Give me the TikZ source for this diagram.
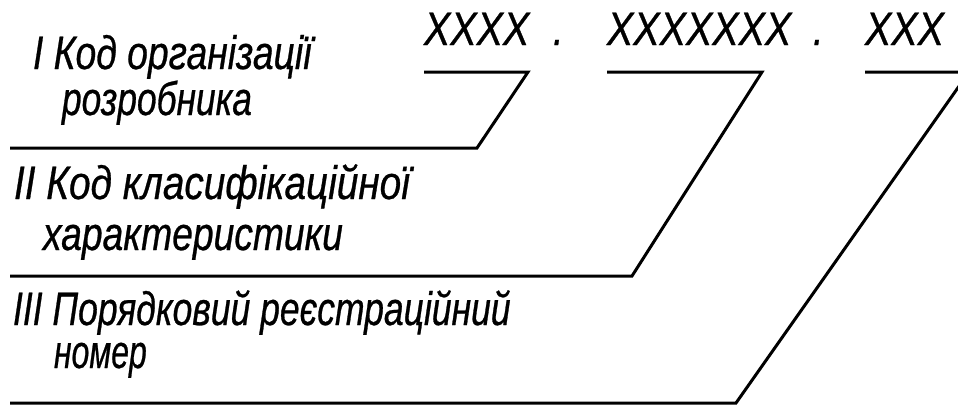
\documentclass[tikz,border=0pt]{standalone}
\usepackage{fontspec}
\newfontfamily\labfont[FakeStretch=0.80,FakeBold=0.6]{Liberation Sans}
\newcommand{\hs}[2]{\scalebox{#1}[1]{#2}}
\begin{document}
\begin{tikzpicture}[x=1pt,y=-1pt,
  lbl/.style={anchor=base west, inner sep=0pt, outer sep=0pt,
    text height=33pt, text depth=9pt,
    font=\labfont\itshape\fontsize{47}{50}\selectfont},
  ln/.style={draw=black, line width=3pt, line join=miter}]
\useasboundingbox (0,0) rectangle (958,405);
\clip (0,0) rectangle (958,405);
% code header
\node[lbl] (c1) at (424,45) {\hs{1.05}{XXXX}};
\node[lbl] (d1) at (553,45) {.};
\node[lbl] (c2) at (607,45) {\hs{1.05}{XXXXXXX}};
\node[lbl] (d2) at (813,45) {.};
\node[lbl] (c3) at (865,45) {\hs{1.05}{XXX}};
% labels
\node[lbl] (t1a) at (33,69) {\hs{0.99}{I Код організації}};
\node[lbl] (t1b) at (62,115) {\hs{0.94}{розробника}};
\node[lbl] (t2a) at (14,199) {\hs{1.03}{II Код класифікаційної}};
\node[lbl] (t2b) at (43,250) {\hs{0.99}{характеристики}};
\node[lbl] (t3a) at (13,325) {\hs{0.944}{III Порядковий реєстраційний}};
\node[lbl] (t3b) at (54,368) {\hs{0.85}{номер}};
% leader coordinates
\coordinate (a1) at (424,72);
\coordinate (b1) at (528,72);
\coordinate (e1) at (477,148);
\coordinate (f1) at (10,148);
\coordinate (a2) at (607,72);
\coordinate (b2) at (762,72);
\coordinate (e2) at (632,276);
\coordinate (f2) at (10,276);
\coordinate (a3) at (865,72);
\coordinate (b3) at (969,72);
\coordinate (e3) at (736,403);
\coordinate (f3) at (10,403);
\draw[ln] (a1) -- (b1) -- (e1) -- (f1);
\draw[ln] (a2) -- (b2) -- (e2) -- (f2);
\draw[ln] (a3) -- (b3) -- (e3) -- (f3);
\end{tikzpicture}
\end{document}
